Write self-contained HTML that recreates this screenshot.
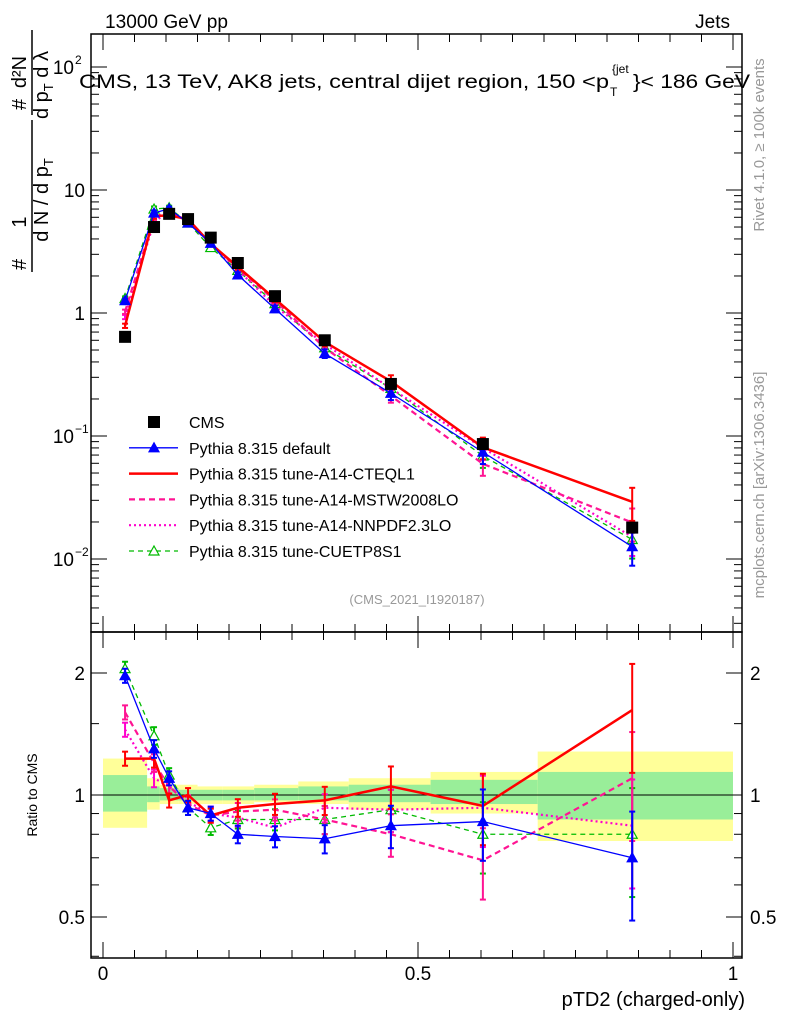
<!DOCTYPE html>
<html><head><meta charset="utf-8"><style>
body{margin:0;background:#fff;width:786px;height:1024px;overflow:hidden;font-family:"Liberation Sans",sans-serif;}
svg text{font-family:"Liberation Sans","DejaVu Sans",sans-serif;}
</style></head><body>
<svg id="chart" width="786" height="1024" xmlns="http://www.w3.org/2000/svg">
<rect width="786" height="1024" fill="#fff"/>
<g id="bands"></g>
<g id="axes"></g>
<g id="series"></g>
<text x="105" y="28" font-size="19" textLength="123" lengthAdjust="spacingAndGlyphs">13000 GeV pp</text>
<text x="730" y="28" font-size="19" text-anchor="end">Jets</text>
<text x="79" y="88" font-size="19" textLength="530" lengthAdjust="spacingAndGlyphs">CMS, 13 TeV, AK8 jets, central dijet region, 150 &lt;p</text>
<text x="610" y="96" font-size="12">T</text>
<text x="612" y="73" font-size="12">{jet</text>
<text x="633" y="88" font-size="19" textLength="117" lengthAdjust="spacingAndGlyphs">}&lt; 186 GeV</text>
<text x="417" y="604" font-size="13" fill="#999" text-anchor="middle">(CMS_2021_I1920187)</text>
<text transform="translate(764,145) rotate(-90)" font-size="15" fill="#999" text-anchor="middle">Rivet 4.1.0, ≥ 100k events</text>
<text transform="translate(764,485) rotate(-90)" font-size="15" fill="#999" text-anchor="middle">mcplots.cern.ch [arXiv:1306.3436]</text>
<g font-size="20">
<text transform="translate(26,270) rotate(-90)" text-anchor="start">#</text>
<text transform="translate(26,222) rotate(-90)" text-anchor="middle">1</text>
<text transform="translate(48,200) rotate(-90)" text-anchor="middle">d N / d p<tspan font-size="13" dy="5">T</tspan></text>
<line x1="32" y1="120" x2="32" y2="272" stroke="#000" stroke-width="1.5"/>
<text transform="translate(26,110) rotate(-90)" text-anchor="start">#</text>
<text transform="translate(26,72) rotate(-90)" text-anchor="middle">d²N</text>
<text transform="translate(48,85) rotate(-90)" text-anchor="middle">d p<tspan font-size="13" dy="5">T</tspan><tspan dy="-5"> d λ</tspan></text>
<line x1="32" y1="30" x2="32" y2="115" stroke="#000" stroke-width="1.5"/>
</g>
<text transform="translate(37,795) rotate(-90)" font-size="14" text-anchor="middle">Ratio to CMS</text>
<text x="745" y="1006" font-size="20" text-anchor="end">pTD2 (charged-only)</text>
<g id="legend"></g>
</svg>
<script>
const xCenters=[0.035,0.081,0.105,0.135,0.171,0.214,0.273,0.352,0.457,0.603,0.84];
const binEdges=[0,0.07,0.09,0.12,0.15,0.19,0.24,0.31,0.39,0.52,0.69,1.0];
const cmsValues=[0.64,5.0,6.4,5.8,4.1,2.55,1.37,0.6,0.265,0.086,0.018];
const bandYellowLo=[0.83,0.92,0.95,0.95,0.95,0.95,0.96,0.95,0.92,0.9,0.77];
const bandYellowHi=[1.23,1.1,1.06,1.06,1.05,1.05,1.06,1.08,1.1,1.14,1.28];
const bandGreenLo=[0.91,0.96,0.97,0.97,0.97,0.97,0.97,0.97,0.96,0.95,0.87];
const bandGreenHi=[1.12,1.05,1.04,1.03,1.03,1.03,1.04,1.05,1.06,1.09,1.14];
const ratioDefault=[1.97,1.3,1.1,0.93,0.9,0.8,0.79,0.78,0.84,0.86,0.7];
const ratioCTEQ=[1.23,1.23,0.97,1.0,0.89,0.93,0.95,0.97,1.05,0.94,1.62];
const ratioMSTW=[1.6,1.2,1.05,0.95,0.89,0.91,0.92,0.87,0.8,0.69,1.1];
const ratioNNPDF=[1.45,1.1,1.05,0.96,0.9,0.88,0.83,0.93,0.92,0.93,0.84];
const ratioCUETP=[2.05,1.4,1.12,0.93,0.83,0.87,0.87,0.87,0.92,0.8,0.8];
const relErr=[0.04,0.05,0.04,0.04,0.04,0.05,0.06,0.08,0.12,0.2,0.3];
const legendLabels=["CMS","Pythia 8.315 default","Pythia 8.315 tune-A14-CTEQL1","Pythia 8.315 tune-A14-MSTW2008LO","Pythia 8.315 tune-A14-NNPDF2.3LO","Pythia 8.315 tune-CUETP8S1"];

const NS="http://www.w3.org/2000/svg";
const L=91,R=742,T=34,M=632,B=958;
const X=v=>103+v*630;
const Y=v=>190-(Math.log10(v)-1)*123;
const YR=v=>795-Math.log2(v)*122;
function mk(p,tag,at){const e=document.createElementNS(NS,tag);for(const k in at)e.setAttribute(k,at[k]);p.appendChild(e);return e;}
const axes=document.getElementById('axes'),bands=document.getElementById('bands'),ser=document.getElementById('series'),leg=document.getElementById('legend');

for(let i=0;i<xCenters.length;i++){
 const y=mk(bands,'rect',{x:X(binEdges[i]),y:YR(bandYellowHi[i]),width:X(binEdges[i+1])-X(binEdges[i]),height:YR(bandYellowLo[i])-YR(bandYellowHi[i]),fill:'#ffff99'});
 
 
 const g=mk(bands,'rect',{x:X(binEdges[i]),y:YR(bandGreenHi[i]),width:X(binEdges[i+1])-X(binEdges[i]),height:YR(bandGreenLo[i])-YR(bandGreenHi[i]),fill:'#99ee99'});
 
 
}
mk(axes,'rect',{x:L,y:T,width:R-L,height:M-T,fill:'none',stroke:'#000','stroke-width':1.5});
mk(axes,'rect',{x:L,y:M,width:R-L,height:B-M,fill:'none',stroke:'#000','stroke-width':1.5});
mk(axes,'line',{x1:L,x2:R,y1:YR(1),y2:YR(1),stroke:'#000','stroke-width':1});
for(let k=0;k<=20;k++){const v=k*0.05,x=X(v),len=(k%10==0)?16:8;
 for(const [a,b] of [[T,M],[M,B]]){mk(axes,'line',{x1:x,x2:x,y1:b,y2:b-len,stroke:'#000'});mk(axes,'line',{x1:x,x2:x,y1:a,y2:a+len,stroke:'#000'});}}
[["0",0],["0.5",0.5],["1",1]].forEach(([t,v])=>{const e=mk(axes,'text',{x:X(v),y:980,'font-size':19,'text-anchor':'middle'});e.textContent=t;});
for(let d=-3;d<=2;d++)for(let m=1;m<10;m++){const v=m*Math.pow(10,d),y=Y(v);if(y<T||y>M)continue;const len=m==1?16:8;
 mk(axes,'line',{x1:L,x2:L+len,y1:y,y2:y,stroke:'#000'});mk(axes,'line',{x1:R,x2:R-len,y1:y,y2:y,stroke:'#000'});}
[[1,"1",""],[10,"10",""],[0.1,"10","−1"],[0.01,"10","−2"],[100,"10","2"]].forEach(([v,b,s])=>{const e=mk(axes,'text',{x:85,y:Y(v)+7,'font-size':19,'text-anchor':'end'});e.textContent=b;if(s){e.setAttribute('x',74);const t=mk(axes,'text',{x:75,y:Y(v)-3,'font-size':12});t.textContent=s;}});
for(const v of [0.4,0.5,0.6,0.7,0.8,0.9,1,1.5,2]){const y=YR(v);const len=(v==0.5||v==1||v==2)?16:8;
 mk(axes,'line',{x1:L,x2:L+len,y1:y,y2:y,stroke:'#000'});mk(axes,'line',{x1:R,x2:R-len,y1:y,y2:y,stroke:'#000'});}
[[2,"2"],[1,"1"],[0.5,"0.5"]].forEach(([v,t])=>{let e=mk(axes,'text',{x:85,y:YR(v)+7,'font-size':19,'text-anchor':'end'});e.textContent=t;e=mk(axes,'text',{x:750,y:YR(v)+7,'font-size':19});e.textContent=t;});

const styles=[
 {name:'default',r:ratioDefault,c:'#0000ff',w:1.3,d:'',m:'tri'},
 {name:'cteql1',r:ratioCTEQ,c:'#ff0000',w:2.5,d:'',m:'none'},
 {name:'mstw2008lo',r:ratioMSTW,c:'#ff1493',w:2.2,d:'6,4',m:'none'},
 {name:'nnpdf23lo',r:ratioNNPDF,c:'#ff00cc',w:2.2,d:'2,3',m:'none'},
 {name:'cuetp8s1',r:ratioCUETP,c:'#00bb00',w:1.3,d:'5,4',m:'otri'}];
function tri(g,x,y,c,open){return mk(g,'path',{d:`M${x} ${y-5}L${x+5} ${y+4}L${x-5} ${y+4}Z`,fill:open?'#fff':c,stroke:c,'stroke-width':1.2});}
styles.slice().reverse().forEach(s=>{
 const g=mk(ser,'g',{});
 
 
 const vals=s.r.map((r,i)=>r*cmsValues[i]);
 mk(g,'polyline',{points:vals.map((v,i)=>X(xCenters[i])+','+Y(v)).join(' '),fill:'none',stroke:s.c,'stroke-width':s.w,'stroke-dasharray':s.d});
 mk(g,'polyline',{points:s.r.map((v,i)=>X(xCenters[i])+','+YR(v)).join(' '),fill:'none',stroke:s.c,'stroke-width':s.w,'stroke-dasharray':s.d});
 for(let i=0;i<xCenters.length;i++){const x=X(xCenters[i]);
  for(const [v,f] of [[vals[i],Y],[s.r[i],YR]]){
   const y1=f(v*(1+relErr[i])),y2=f(v*(1-relErr[i]));
   mk(g,'line',{x1:x,x2:x,y1:y1,y2:y2,stroke:s.c,'stroke-width':2});
   mk(g,'line',{x1:x-3,x2:x+3,y1:y1,y2:y1,stroke:s.c,'stroke-width':2});
   mk(g,'line',{x1:x-3,x2:x+3,y1:y2,y2:y2,stroke:s.c,'stroke-width':2});
   if(s.m!='none')tri(g,x,f(v),s.c,s.m=='otri');
  }}
});
const cg=mk(ser,'g',{});


cmsValues.forEach((v,i)=>{const r=mk(cg,'rect',{x:X(xCenters[i])-6,y:Y(v)-6,width:12,height:12,fill:'#000'});
 
 });
legendLabels.forEach((t,i)=>{const y=422+i*25.8;const g=mk(leg,'g',{});
 
 
 if(i==0)mk(g,'rect',{x:148,y:y-6,width:12,height:12,fill:'#000'});
 else{const s=styles[i-1];mk(g,'line',{x1:129,x2:178,y1:y,y2:y,stroke:s.c,'stroke-width':s.w,'stroke-dasharray':s.d});if(s.m!='none')tri(g,154,y,s.c,s.m=='otri');}
 const e=mk(g,'text',{x:189,y:y+6,'font-size':16});e.textContent=t;});
</script>
</body></html>
